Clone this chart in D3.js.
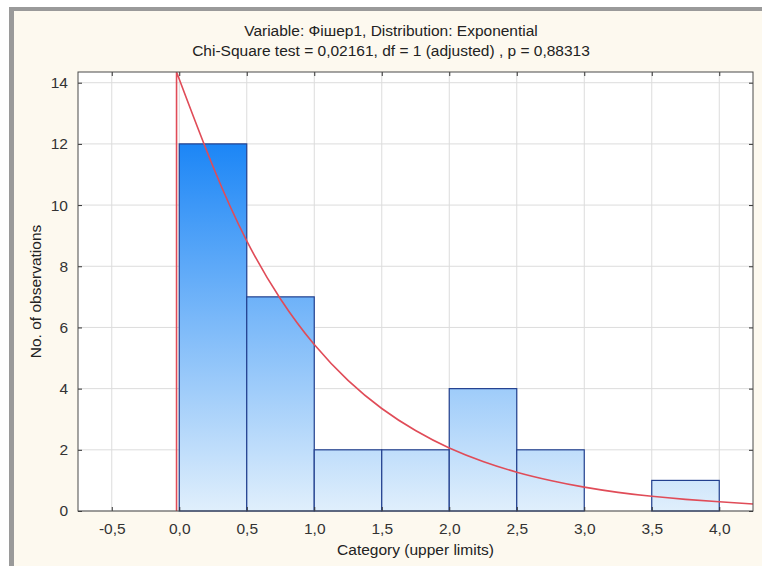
<!DOCTYPE html>
<html>
<head>
<meta charset="utf-8">
<script src="https://cdn.jsdelivr.net/npm/d3@7"></script>
<style>
  body { margin: 0; background: #fff; }
  text { font-family: "Liberation Sans", Arial, sans-serif; }
</style>
</head>
<body>
<svg id="chart"></svg>
<script>
// histogram bins (upper limits) and counts
let binStarts = [0, 0.5, 1.0, 1.5, 2.0, 2.5, 3.0, 3.5];
let binWidth = 0.5;
let counts = [12, 7, 2, 2, 4, 2, 0, 1];

// expected exponential curve
let curveX = [-0.02, -0.02, 0.25, 0.5, 0.75, 1.0, 1.25, 1.5, 1.75, 2.0, 2.25, 2.5, 2.75, 3.0, 3.25, 3.5, 3.75, 4.0, 4.25];
let curveY = [0, 14.35, 11.26, 8.83, 6.93, 5.44, 4.27, 3.35, 2.63, 2.06, 1.62, 1.27, 1.0, 0.78, 0.61, 0.48, 0.38, 0.3, 0.23];

let xTicks = [-0.5, 0, 0.5, 1.0, 1.5, 2.0, 2.5, 3.0, 3.5, 4.0];
let yTicks = [0, 2, 4, 6, 8, 10, 12, 14];

let titleLines = ["Variable: Фішер1, Distribution: Exponential",
                  "Chi-Square test = 0,02161, df = 1 (adjusted) , p = 0,88313"];

let width = 762, height = 566;
let pLeft = 78, pTop = 72, pRight = 753, pBottom = 511;
let fontSize = 15.5;

let svg = d3.select("#chart")
    .attr("width", width)
    .attr("height", height);

// panel frame
svg.append("rect").attr("x", 9).attr("y", 7).attr("width", width - 9).attr("height", height - 7).attr("fill", "#9a9a9a");
svg.append("rect").attr("x", 14).attr("y", 11).attr("width", width - 14).attr("height", height - 11).attr("fill", "#fdf9ef");

let xScale = d3.scaleLinear().domain([-0.75, 4.25]).range([pLeft, pRight]);
let yScale = d3.scaleLinear().domain([0, 14.35]).range([pBottom, pTop]);

svg.append("rect")
   .attr("x", pLeft).attr("y", pTop)
   .attr("width", pRight - pLeft).attr("height", pBottom - pTop)
   .attr("fill", "#fff");

// gridlines
svg.append("g").selectAll("line")
   .data(xTicks).enter().append("line")
   .attr("x1", d => xScale(d)).attr("x2", d => xScale(d))
   .attr("y1", pTop).attr("y2", pBottom)
   .attr("stroke", "#dcdcdc");
svg.append("g").selectAll("line")
   .data(yTicks).enter().append("line")
   .attr("x1", pLeft).attr("x2", pRight)
   .attr("y1", d => yScale(d)).attr("y2", d => yScale(d))
   .attr("stroke", "#dcdcdc");

let defs = svg.append("defs");
let grad = defs.append("linearGradient")
   .attr("id", "barfill")
   .attr("gradientUnits", "userSpaceOnUse")
   .attr("x1", 0).attr("x2", 0)
   .attr("y1", yScale(12)).attr("y2", yScale(0));
grad.append("stop").attr("offset", "0%").attr("stop-color", "#1c86f6");
grad.append("stop").attr("offset", "100%").attr("stop-color", "#e0effc");

defs.append("clipPath").attr("id", "plotclip")
   .append("rect").attr("x", pLeft).attr("y", pTop).attr("width", pRight - pLeft).attr("height", pBottom - pTop);

let bars = binStarts.map((s, i) => ({ x0: s, x1: s + binWidth, n: counts[i] }))
                    .filter(d => d.n > 0);

svg.append("g").selectAll("rect")
   .data(bars).enter().append("rect")
   .attr("x", d => xScale(d.x0))
   .attr("y", d => yScale(d.n))
   .attr("width", d => xScale(d.x1) - xScale(d.x0))
   .attr("height", d => yScale(0) - yScale(d.n))
   .attr("fill", "url(#barfill)")
   .attr("stroke", "#22408f")
   .attr("stroke-width", 1.2);

let pts = curveX.map((x, i) => [x, curveY[i]]);
let line = d3.line()
   .x(d => xScale(d[0]))
   .y(d => yScale(d[1]))
   .curve(d3.curveNatural);

svg.append("g").attr("clip-path", "url(#plotclip)")
   .append("path")
   .attr("d", "M" + xScale(pts[0][0]) + "," + yScale(pts[0][1]) + "L" + line(pts.slice(1)).slice(1))
   .attr("fill", "none")
   .attr("stroke", "#e04c58")
   .attr("stroke-width", 1.6);

// axes with inward ticks
let xAxis = d3.axisBottom(xScale).tickValues(xTicks).tickSize(-4).tickPadding(12)
              .tickFormat(d => d3.format(".1f")(d).replace(".", ",").replace("−", "-"));
svg.append("g").attr("transform", "translate(0," + pBottom + ")").call(xAxis);
svg.append("g").attr("transform", "translate(0," + pTop + ")")
   .call(d3.axisTop(xScale).tickValues(xTicks).tickSize(-4).tickFormat(""));

let yAxis = d3.axisLeft(yScale).tickValues(yTicks).tickSize(-4).tickPadding(10);
svg.append("g").attr("transform", "translate(" + pLeft + ",0)").call(yAxis);
svg.append("g").attr("transform", "translate(" + pRight + ",0)")
   .call(d3.axisRight(yScale).tickValues(yTicks).tickSize(-4).tickFormat(""));

svg.selectAll(".domain").remove();
svg.selectAll(".tick line").attr("stroke", "#333");
svg.selectAll(".tick text")
   .attr("font-size", fontSize)
   .attr("fill", "#333")
   .style("font-family", "'Liberation Sans', Arial, sans-serif");

svg.append("rect")
   .attr("x", pLeft).attr("y", pTop)
   .attr("width", pRight - pLeft).attr("height", pBottom - pTop)
   .attr("fill", "none").attr("stroke", "#4a4a4a");

// titles
svg.append("g").selectAll("text")
   .data(titleLines).enter().append("text")
   .attr("x", 391)
   .attr("y", (d, i) => 36 + i * 20)
   .attr("text-anchor", "middle")
   .attr("font-size", fontSize)
   .attr("fill", "#222")
   .text(d => d);

svg.append("text")
   .attr("x", (pLeft + pRight) / 2)
   .attr("y", 555)
   .attr("text-anchor", "middle")
   .attr("font-size", fontSize)
   .attr("fill", "#222")
   .text("Category (upper limits)");

svg.append("text")
   .attr("transform", "translate(41," + ((pTop + pBottom) / 2) + ") rotate(-90)")
   .attr("text-anchor", "middle")
   .attr("font-size", fontSize)
   .attr("fill", "#222")
   .text("No. of observations");
</script>
</body>
</html>
